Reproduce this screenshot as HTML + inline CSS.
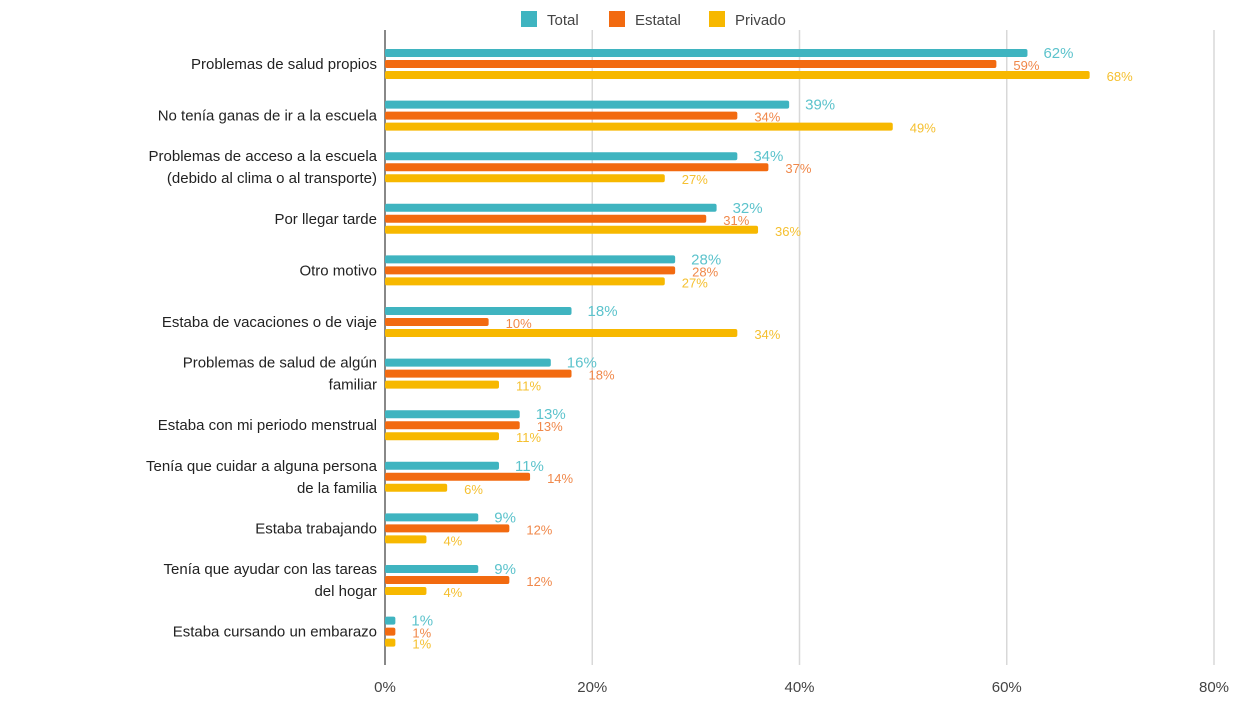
<!DOCTYPE html>
<html><head><meta charset="utf-8"><style>
body{margin:0;background:#fff;width:1259px;height:708px;overflow:hidden;font-family:"Liberation Sans",sans-serif}
</style></head><body>
<svg id="chart" width="1259" height="708" xmlns="http://www.w3.org/2000/svg"></svg>
<script>
const categories=[["Problemas de salud propios"],["No tenía ganas de ir a la escuela"],["Problemas de acceso a la escuela","(debido al clima o al transporte)"],["Por llegar tarde"],["Otro motivo"],["Estaba de vacaciones o de viaje"],["Problemas de salud de algún","familiar"],["Estaba con mi periodo menstrual"],["Tenía que cuidar a alguna persona","de la familia"],["Estaba trabajando"],["Tenía que ayudar con las tareas","del hogar"],["Estaba cursando un embarazo"]];
const totalValues=[62,39,34,32,28,18,16,13,11,9,9,1];
const estatalValues=[59,34,37,31,28,10,18,13,14,12,12,1];
const privadoValues=[68,49,27,36,27,34,11,11,6,4,4,1];
const ticks=[0,20,40,60,80];
const seriesNames=["Total","Estatal","Privado"];
const NS="http://www.w3.org/2000/svg";
const svg=document.getElementById('chart');
const x0=385,x1=1214,yTop=30,yBot=665;
const xs=v=>x0+(v/80)*(x1-x0);
const yc=i=>64+i*51.6;
function mk(t,a){const e=document.createElementNS(NS,t);for(const k in a)e.setAttribute(k,a[k]);svg.appendChild(e);return e;}
const colors=["#3fb4c0","#f26a10","#f7b800"];
const lblColors=["#5cc3cc","#f0884a","#f5c030"];
ticks.forEach(t=>{
  const g=mk('line',{x1:xs(t),x2:xs(t),y1:yTop,y2:yBot,stroke:t===0?'#888':'#d8d8d8','stroke-width':t===0?2:1.5});
  
  
  const tx=mk('text',{x:xs(t),y:692,'text-anchor':'middle','font-size':15,fill:'#444'});
  tx.textContent=t+'%';
  
  
});
const series=[totalValues,estatalValues,privadoValues];
categories.forEach((c,i)=>{
  const cy=yc(i);
  const t=mk('text',{x:377,y:cy+5-(c.length-1)*11,'text-anchor':'end','font-size':15,fill:'#222'});
  
  
  c.forEach((ln,j)=>{const s=document.createElementNS(NS,'tspan');s.setAttribute('x',377);if(j)s.setAttribute('dy',22);s.textContent=ln;t.appendChild(s);});
  series.forEach((arr,k)=>{
    const y=cy-15+k*11;
    const r=mk('rect',{x:x0,y:y,width:Math.max(0,xs(arr[i])-x0),height:8,fill:colors[k],rx:2});
    
    
    const l=mk('text',{x:xs(arr[i])+(k===0?16:17),y:y+(k===0?9:10),'font-size':k===0?15:13,fill:lblColors[k]});
    l.textContent=arr[i]+'%';
    
    
  });
});
let lx=521;
seriesNames.forEach((n,k)=>{
  const r=mk('rect',{x:lx,y:11,width:16,height:16,fill:colors[k]});
  
  
  const t=mk('text',{x:lx+26,y:25,'font-size':15,fill:'#444'});
  t.textContent=n;
  
  
  lx+=[88,100,0][k];
});
</script>
</body></html>
